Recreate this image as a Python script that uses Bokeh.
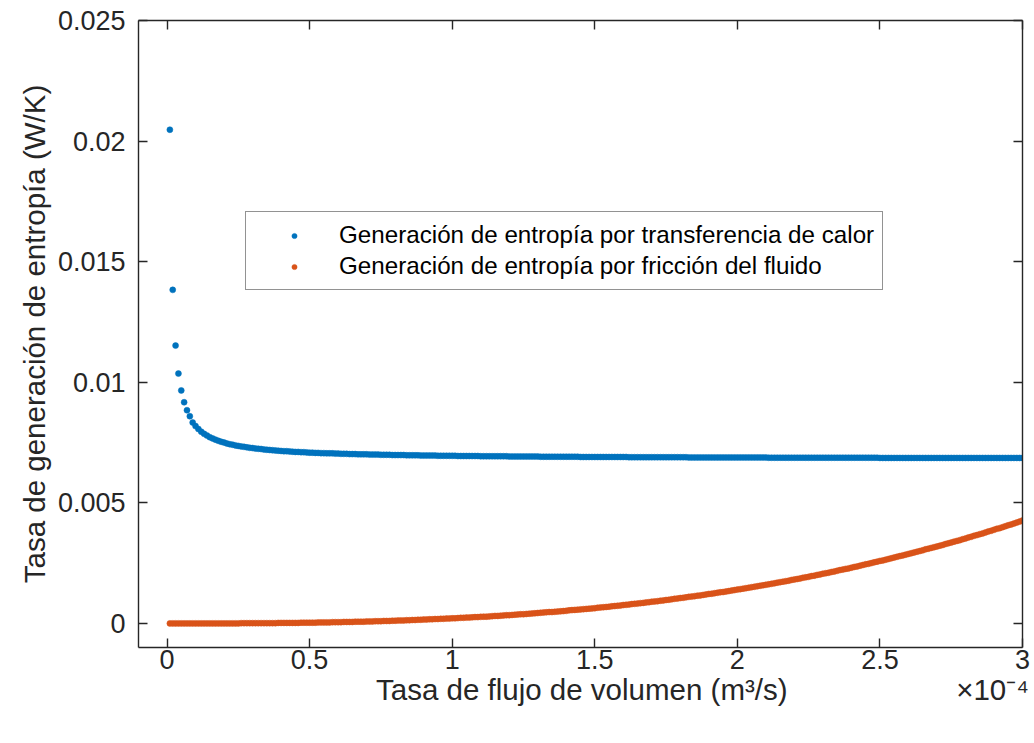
from bokeh.plotting import figure
from bokeh.models import (Range1d, LinearAxis, FixedTicker, CustomJSTickFormatter,
                          Legend, LegendItem)
from bokeh.embed import file_html
from bokeh.resources import INLINE

# ---------------- data ----------------
flow_step = 1e-6  # m^3/s between samples, first sample at 1e-6
heat_transfer = [
    0.02047, 0.01383, 0.01152, 0.01036, 0.00966, 0.00917, 0.00884, 0.00859, 0.00833, 0.00818,
    0.00806, 0.00795, 0.00786, 0.00779, 0.00772, 0.00767, 0.00762, 0.00757, 0.00753, 0.00750,
    0.00746, 0.00743, 0.00741, 0.00738, 0.00736, 0.00734, 0.00732, 0.00730, 0.00728, 0.00727,
    0.00725, 0.00724, 0.00723, 0.00721, 0.00720, 0.00719, 0.00718, 0.00717, 0.00716, 0.00715,
    0.00714, 0.00714, 0.00713, 0.00712, 0.00711, 0.00711, 0.00710, 0.00710, 0.00709, 0.00708,
    0.00708, 0.00707, 0.00707, 0.00706, 0.00706, 0.00705, 0.00705, 0.00705, 0.00704, 0.00704,
    0.00703, 0.00703, 0.00703, 0.00702, 0.00702, 0.00702, 0.00701, 0.00701, 0.00701, 0.00701,
    0.00700, 0.00700, 0.00700, 0.00700, 0.00699, 0.00699, 0.00699, 0.00699, 0.00698, 0.00698,
    0.00698, 0.00698, 0.00698, 0.00697, 0.00697, 0.00697, 0.00697, 0.00697, 0.00696, 0.00696,
    0.00696, 0.00696, 0.00696, 0.00696, 0.00695, 0.00695, 0.00695, 0.00695, 0.00695, 0.00695,
    0.00695, 0.00694, 0.00694, 0.00694, 0.00694, 0.00694, 0.00694, 0.00694, 0.00694, 0.00693,
    0.00693, 0.00693, 0.00693, 0.00693, 0.00693, 0.00693, 0.00693, 0.00693, 0.00693, 0.00692,
    0.00692, 0.00692, 0.00692, 0.00692, 0.00692, 0.00692, 0.00692, 0.00692, 0.00692, 0.00692,
    0.00691, 0.00691, 0.00691, 0.00691, 0.00691, 0.00691, 0.00691, 0.00691, 0.00691, 0.00691,
    0.00691, 0.00691, 0.00691, 0.00691, 0.00690, 0.00690, 0.00690, 0.00690, 0.00690, 0.00690,
    0.00690, 0.00690, 0.00690, 0.00690, 0.00690, 0.00690, 0.00690, 0.00690, 0.00690, 0.00690,
    0.00690, 0.00689, 0.00689, 0.00689, 0.00689, 0.00689, 0.00689, 0.00689, 0.00689, 0.00689,
    0.00689, 0.00689, 0.00689, 0.00689, 0.00689, 0.00689, 0.00689, 0.00689, 0.00689, 0.00689,
    0.00689, 0.00689, 0.00688, 0.00688, 0.00688, 0.00688, 0.00688, 0.00688, 0.00688, 0.00688,
    0.00688, 0.00688, 0.00688, 0.00688, 0.00688, 0.00688, 0.00688, 0.00688, 0.00688, 0.00688,
    0.00688, 0.00688, 0.00688, 0.00688, 0.00688, 0.00688, 0.00688, 0.00688, 0.00688, 0.00688,
    0.00687, 0.00687, 0.00687, 0.00687, 0.00687, 0.00687, 0.00687, 0.00687, 0.00687, 0.00687,
    0.00687, 0.00687, 0.00687, 0.00687, 0.00687, 0.00687, 0.00687, 0.00687, 0.00687, 0.00687,
    0.00687, 0.00687, 0.00687, 0.00687, 0.00687, 0.00687, 0.00687, 0.00687, 0.00687, 0.00687,
    0.00687, 0.00687, 0.00687, 0.00687, 0.00687, 0.00687, 0.00687, 0.00687, 0.00687, 0.00686,
    0.00686, 0.00686, 0.00686, 0.00686, 0.00686, 0.00686, 0.00686, 0.00686, 0.00686, 0.00686,
    0.00686, 0.00686, 0.00686, 0.00686, 0.00686, 0.00686, 0.00686, 0.00686, 0.00686, 0.00686,
    0.00686, 0.00686, 0.00686, 0.00686, 0.00686, 0.00686, 0.00686, 0.00686, 0.00686, 0.00686,
    0.00686, 0.00686, 0.00686, 0.00686, 0.00686, 0.00686, 0.00686, 0.00686, 0.00686, 0.00686,
    0.00686, 0.00686, 0.00686, 0.00686, 0.00686, 0.00686, 0.00686, 0.00686, 0.00686, 0.00686,
]
fluid_friction = [
    0.0, 0.0, 0.0, 0.0, 0.0, 0.0, 0.0, 0.0, 0.0, 0.0,
    0.0, 0.0, 0.0, 0.0, 0.0, 0.0, 0.0, 0.0, 0.0, 0.0,
    0.0, 0.0, 0.0, 0.0, 0.0, 0.00001, 0.00001, 0.00001, 0.00001, 0.00001,
    0.00001, 0.00001, 0.00001, 0.00001, 0.00001, 0.00001, 0.00001, 0.00001, 0.00002, 0.00002,
    0.00002, 0.00002, 0.00002, 0.00002, 0.00002, 0.00002, 0.00003, 0.00003, 0.00003, 0.00003,
    0.00003, 0.00003, 0.00004, 0.00004, 0.00004, 0.00004, 0.00004, 0.00005, 0.00005, 0.00005,
    0.00005, 0.00006, 0.00006, 0.00006, 0.00006, 0.00007, 0.00007, 0.00007, 0.00007, 0.00008,
    0.00008, 0.00008, 0.00009, 0.00009, 0.00009, 0.00010, 0.00010, 0.00010, 0.00011, 0.00011,
    0.00012, 0.00012, 0.00012, 0.00013, 0.00013, 0.00014, 0.00014, 0.00015, 0.00015, 0.00016,
    0.00016, 0.00017, 0.00017, 0.00018, 0.00018, 0.00019, 0.00019, 0.00020, 0.00020, 0.00021,
    0.00021, 0.00022, 0.00023, 0.00023, 0.00024, 0.00024, 0.00025, 0.00026, 0.00026, 0.00027,
    0.00028, 0.00028, 0.00029, 0.00030, 0.00031, 0.00031, 0.00032, 0.00033, 0.00034, 0.00034,
    0.00035, 0.00036, 0.00037, 0.00038, 0.00038, 0.00039, 0.00040, 0.00041, 0.00042, 0.00043,
    0.00044, 0.00045, 0.00046, 0.00047, 0.00047, 0.00048, 0.00049, 0.00050, 0.00051, 0.00052,
    0.00054, 0.00055, 0.00056, 0.00057, 0.00058, 0.00059, 0.00060, 0.00061, 0.00062, 0.00063,
    0.00065, 0.00066, 0.00067, 0.00068, 0.00069, 0.00071, 0.00072, 0.00073, 0.00074, 0.00076,
    0.00077, 0.00078, 0.00080, 0.00081, 0.00082, 0.00084, 0.00085, 0.00087, 0.00088, 0.00090,
    0.00091, 0.00092, 0.00094, 0.00095, 0.00097, 0.00098, 0.00100, 0.00102, 0.00103, 0.00105,
    0.00106, 0.00108, 0.00110, 0.00111, 0.00113, 0.00115, 0.00116, 0.00118, 0.00120, 0.00122,
    0.00123, 0.00125, 0.00127, 0.00129, 0.00130, 0.00132, 0.00134, 0.00136, 0.00138, 0.00140,
    0.00142, 0.00144, 0.00146, 0.00148, 0.00150, 0.00152, 0.00154, 0.00156, 0.00158, 0.00160,
    0.00162, 0.00164, 0.00166, 0.00169, 0.00171, 0.00173, 0.00175, 0.00177, 0.00180, 0.00182,
    0.00184, 0.00186, 0.00189, 0.00191, 0.00193, 0.00196, 0.00198, 0.00201, 0.00203, 0.00206,
    0.00208, 0.00210, 0.00213, 0.00215, 0.00218, 0.00221, 0.00223, 0.00226, 0.00228, 0.00231,
    0.00234, 0.00236, 0.00239, 0.00242, 0.00245, 0.00247, 0.00250, 0.00253, 0.00256, 0.00259,
    0.00261, 0.00264, 0.00267, 0.00270, 0.00273, 0.00276, 0.00279, 0.00282, 0.00285, 0.00288,
    0.00291, 0.00294, 0.00297, 0.00300, 0.00303, 0.00307, 0.00310, 0.00313, 0.00316, 0.00319,
    0.00322, 0.00325, 0.00329, 0.00332, 0.00335, 0.00339, 0.00342, 0.00345, 0.00349, 0.00352,
    0.00356, 0.00359, 0.00363, 0.00366, 0.00370, 0.00373, 0.00377, 0.00381, 0.00384, 0.00388,
    0.00392, 0.00395, 0.00399, 0.00403, 0.00407, 0.00410, 0.00414, 0.00418, 0.00422, 0.00427,
]
flow_rate = [flow_step * (i + 1) for i in range(len(heat_transfer))]

x_ticks = [0, 0.5e-4, 1e-4, 1.5e-4, 2e-4, 2.5e-4, 3e-4]
y_ticks = [0, 0.005, 0.01, 0.015, 0.02, 0.025]
series_labels = ["Generación de entropía por transferencia de calor",
                 "Generación de entropía por fricción del fluido"]
x_label = "Tasa de flujo de volumen (m³/s)"
x_multiplier = "×10⁻⁴"
y_label = "Tasa de generación de entropía (W/K)"

# ---------------- style ----------------
BLUE = "#0072BD"
ORANGE = "#D95319"
AX = "#262626"
FONT = "Liberation Sans"
TICK_FS = "27px"
LABEL_FS = "29.5px"
LEGEND_FS = "24.2px"

p = figure(width=1034, height=743, output_backend="svg", toolbar_location=None,
           x_range=Range1d(-1e-5, 3e-4), y_range=Range1d(-0.001, 0.025),
           min_border_left=138, min_border_right=12, min_border_top=20,
           min_border_bottom=96)
p.outline_line_color = None
p.xgrid.visible = False
p.ygrid.visible = False
p.background_fill_color = "white"
p.border_fill_color = "white"

xfmt = CustomJSTickFormatter(code="""
const v = Math.round(tick * 1e5) / 10;
return v.toString();
""")
yfmt = CustomJSTickFormatter(code="""
let s = tick.toFixed(3);
s = s.replace(/0+$/, '').replace(/\\.$/, '');
return s;
""")
blank = CustomJSTickFormatter(code="return '';")


def style_axis(ax):
    ax.axis_line_color = AX
    ax.axis_line_width = 1.4
    ax.major_tick_line_color = AX
    ax.major_tick_line_width = 1.4
    ax.major_tick_in = 9
    ax.major_tick_out = 0
    ax.minor_tick_line_color = None
    ax.major_label_text_font = FONT
    ax.major_label_text_font_size = TICK_FS
    ax.major_label_text_color = AX
    ax.axis_label_text_font = FONT
    ax.axis_label_text_font_size = LABEL_FS
    ax.axis_label_text_font_style = "normal"
    ax.axis_label_text_color = AX


xa = p.xaxis[0]
xa.ticker = FixedTicker(ticks=x_ticks)
xa.formatter = xfmt
style_axis(xa)
xa.major_label_standoff = 2

# second bottom "axis" that only carries the x title and the x10^-4 multiplier
title_positions = [1.4546e-4, 2.895e-4]
title_fmt = CustomJSTickFormatter(args=dict(texts=[x_label, x_multiplier]),
                                  code="return texts[index];")
xt = LinearAxis(ticker=FixedTicker(ticks=title_positions), formatter=title_fmt)
xt.axis_line_color = None
xt.major_tick_line_color = None
xt.minor_tick_line_color = None
xt.major_tick_in = 0
xt.major_tick_out = 0
xt.major_label_text_font = FONT
xt.major_label_text_font_size = LABEL_FS
xt.major_label_text_color = AX
xt.major_label_standoff = 1
p.add_layout(xt, "below")

ya = p.yaxis[0]
ya.ticker = FixedTicker(ticks=y_ticks)
ya.formatter = yfmt
ya.axis_label = y_label
style_axis(ya)
ya.major_label_standoff = 13
ya.axis_label_standoff = 4

top = LinearAxis(ticker=FixedTicker(ticks=x_ticks), formatter=blank)
style_axis(top)
top.major_label_standoff = 0
top.major_label_text_font_size = "0px"
p.add_layout(top, "above")

right = LinearAxis(ticker=FixedTicker(ticks=y_ticks), formatter=blank)
style_axis(right)
right.major_label_standoff = 0
right.major_label_text_font_size = "0px"
p.add_layout(right, "right")

r_heat = p.scatter(flow_rate, heat_transfer, size=6, fill_color=BLUE, line_color=BLUE,
                   line_width=0.5)
r_fric = p.scatter(flow_rate, fluid_friction, size=6, fill_color=ORANGE, line_color=ORANGE,
                   line_width=0.5)

legend = Legend(items=[LegendItem(label=series_labels[0], renderers=[r_heat]),
                       LegendItem(label=series_labels[1], renderers=[r_fric])],
                location=(107, 357))
legend.border_line_color = AX
legend.border_line_width = 1.4
legend.background_fill_color = "white"
legend.background_fill_alpha = 1.0
legend.label_text_font = FONT
legend.label_text_font_size = LEGEND_FS
legend.label_text_color = "black"
legend.glyph_width = 80
legend.glyph_height = 13
legend.label_height = 30
legend.label_standoff = 5
legend.padding = 8
legend.spacing = 1
legend.margin = 0
p.add_layout(legend)

open("out.html", "w").write(file_html(p, INLINE))
